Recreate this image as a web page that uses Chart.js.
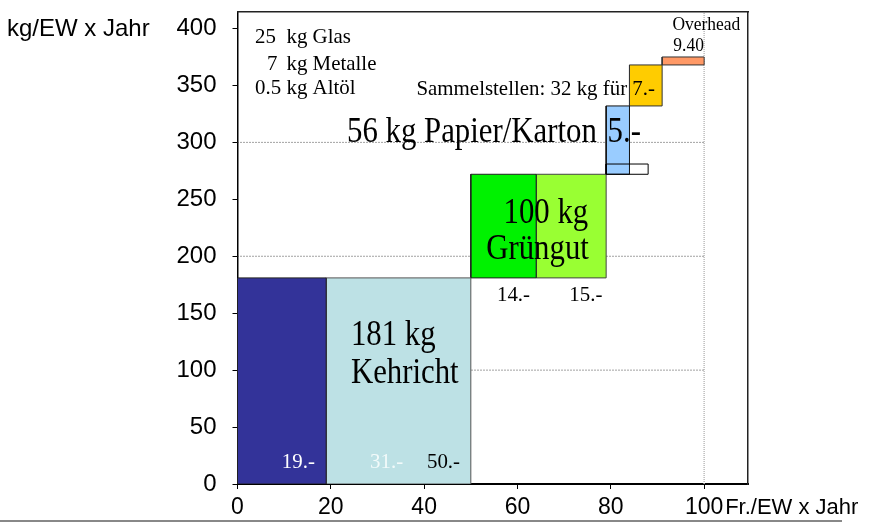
<!DOCTYPE html>
<html>
<head>
<meta charset="utf-8">
<script src="https://cdn.jsdelivr.net/npm/chart.js@4.4.0/dist/chart.umd.min.js"></script>
<style>
html, body { margin: 0; padding: 0; background: #fff; }
#wrap { width: 876px; height: 523px; position: relative; }
</style>
</head>
<body>
<div id="wrap"><canvas id="chartCanvas"></canvas></div>
<script>
// Kosten (Fr./EW x Jahr) von-bis und Menge (kg/EW x Jahr) von-bis je Block
const blocks   = ['Kehricht 19.-', 'Kehricht 31.-', 'Grüngut 14.-', 'Grüngut 15.-', 'Grüngut Rest', 'Papier/Karton 5.-', 'Sammelstellen 7.-', 'Overhead 9.40'];
const costFrom = [0, 19, 50, 64, 79, 79, 84, 91];
const costTo   = [19, 50, 64, 79, 88, 84, 91, 100];
const kgFrom   = [0, 0, 181, 181, 272, 272, 332, 368];
const kgTo     = [181, 181, 272, 272, 281, 332, 368, 375];
const gridKg   = [100, 200, 300];
const xTicks   = [0, 20, 40, 60, 80, 100];
const yTicks   = [0, 50, 100, 150, 200, 250, 300, 350, 400];

const fills   = ['#333399', '#bde1e5', '#00f200', '#99ff33', 'rgba(0,0,0,0)', '#99ccff', '#ffcc00', '#ff9966'];
const borders = ['#222', '#555', '#222', '#444', '#000', '#111', '#333', '#333'];

const datasets = [];

blocks.forEach((name, i) => {
    datasets.push({
        label: name,
        data: [
            {x: costFrom[i], y: kgFrom[i]},
            {x: costTo[i], y: kgFrom[i]},
            {x: costTo[i], y: kgTo[i]},
            {x: costFrom[i], y: kgTo[i]},
            {x: costFrom[i], y: kgFrom[i]}
        ],
        showLine: true,
        fill: 'shape',
        backgroundColor: fills[i],
        borderColor: borders[i],
        borderWidth: 1,
        pointRadius: 0,
        tension: 0,
        order: i == 4 ? 1 : 5
    });
});

// punktierte Hilfslinien
gridKg.forEach(v => {
    datasets.push({
        label: 'grid ' + v,
        data: [{x: 0, y: v}, {x: 100, y: v}],
        showLine: true,
        borderColor: '#444',
        borderWidth: 1,
        borderDash: [1, 2],
        pointRadius: 0,
        order: 10
    });
});
datasets.push({
    label: 'grid 100 Fr.',
    data: [{x: 100, y: 0}, {x: 100, y: 414.5}],
    showLine: true,
    borderColor: '#bbb',
    borderWidth: 1.5,
    borderDash: [1, 1],
    pointRadius: 0,
    order: 10
});

// Beschriftungen (x in Fr., y in kg)
const notes = [
    {t: '25', x: 3.75, y: 387, f: 'm'},
    {t: 'kg Glas', x: 10.5, y: 387, f: 'm'},
    {t: '7', x: 6.3, y: 364, f: 'm'},
    {t: 'kg Metalle', x: 10.5, y: 364, f: 'm'},
    {t: '0.5', x: 3.75, y: 342.5, f: 'm'},
    {t: 'kg Altöl', x: 10.5, y: 342.5, f: 'm'},
    {t: 'Sammelstellen: 32 kg für', x: 83.5, y: 342, f: 'm', a: 'right'},
    {t: '7.-', x: 84.6, y: 342, f: 'm'},
    {t: '56 kg Papier/Karton', x: 77, y: 300.5, f: 'l', a: 'right'},
    {t: '5.-', x: 79.3, y: 300.5, f: 'l'},
    {t: '100 kg', x: 57, y: 229.5, f: 'l'},
    {t: 'Grüngut', x: 53.3, y: 197.5, f: 'l'},
    {t: '14.-', x: 55.6, y: 161, f: 'm'},
    {t: '15.-', x: 71.1, y: 161, f: 'm'},
    {t: '181 kg', x: 24.3, y: 122, f: 'l'},
    {t: 'Kehricht', x: 24.3, y: 89, f: 'l'},
    {t: '19.-', x: 9.5, y: 14, f: 'm', c: '#fff'},
    {t: '31.-', x: 28.4, y: 14, f: 'm', c: '#f2fafa'},
    {t: '50.-', x: 40.6, y: 14, f: 'm'},
    {t: 'Overhead', x: 93.2, y: 399, f: 's'},
    {t: '9.40', x: 93.4, y: 380, f: 's'}
];
const noteFonts = {
    s: {size: 18, sx: 0.97},
    m: {size: 22, sx: 0.95},
    l: {size: 35, sx: 0.88}
};

const textPlugin = {
    id: 'texts',
    afterDatasetsDraw(chart) {
        const ctx = chart.ctx;
        const xs = chart.scales.x, ys = chart.scales.y;
        notes.forEach(n => {
            const fnt = noteFonts[n.f];
            ctx.save();
            ctx.translate(xs.getPixelForValue(n.x), ys.getPixelForValue(n.y));
            ctx.scale(fnt.sx, 1);
            ctx.font = fnt.size + 'px "Liberation Serif", "Times New Roman", serif';
            ctx.fillStyle = n.c || '#000';
            ctx.textAlign = n.a || 'left';
            ctx.textBaseline = 'alphabetic';
            ctx.fillText(n.t, 0, 0);
            ctx.restore();
        });

        // Achsentitel
        ctx.save();
        ctx.fillStyle = '#000';
        ctx.textBaseline = 'middle';
        ctx.textAlign = 'left';
        ctx.font = '24px "Liberation Sans", Arial, sans-serif';
        ctx.fillText('kg/EW x Jahr', 7, ys.getPixelForValue(400) + 1);
        ctx.font = '22px "Liberation Sans", Arial, sans-serif';
        ctx.fillText('Fr./EW x Jahr', xs.getPixelForValue(100) + 21, 508);
        ctx.restore();
    },
    afterDraw(chart) {
        const ctx = chart.ctx;
        ctx.save();
        ctx.strokeStyle = '#888';
        ctx.lineWidth = 2;
        ctx.beginPath();
        ctx.moveTo(0, 521);
        ctx.lineTo(842, 521);
        ctx.stroke();
        ctx.restore();
    }
};

Chart.defaults.font.family = '"Liberation Sans", Arial, sans-serif';
Chart.defaults.color = '#000';

function noPad(s) {
    s.paddingTop = 0; s.paddingBottom = 0; s.paddingLeft = 0; s.paddingRight = 0;
}

new Chart(document.getElementById('chartCanvas'), {
    type: 'scatter',
    data: {datasets: datasets},
    options: {
        responsive: true,
        maintainAspectRatio: false,
        animation: false,
        layout: {padding: {top: 12, right: 128, left: 0, bottom: 0}},
        plugins: {legend: {display: false}, tooltip: {enabled: false}},
        scales: {
            x: {
                type: 'linear', min: 0, max: 109.4,
                afterBuildTicks: s => { s.ticks = xTicks.map(v => ({value: v})); },
                afterFit: s => { s.height = 39; noPad(s); },
                ticks: {font: {size: 23}, padding: 5, color: '#000', maxRotation: 0},
                grid: {drawOnChartArea: false, tickLength: 5, color: '#000'},
                border: {color: '#000', width: 2}
            },
            y: {
                type: 'linear', min: 0, max: 414.5,
                afterBuildTicks: s => { s.ticks = yTicks.map(v => ({value: v})); },
                afterFit: s => { s.width = 237.5; noPad(s); },
                ticks: {font: {size: 24}, padding: 16, color: '#000'},
                grid: {drawOnChartArea: false, tickLength: 5, color: '#000'},
                border: {color: '#000', width: 1.5}
            },
            x2: {
                type: 'linear', position: 'top', min: 0, max: 1,
                afterFit: s => { s.height = 0; noPad(s); },
                ticks: {display: false},
                grid: {display: false},
                border: {display: true, color: '#222', width: 1.5}
            },
            y2: {
                type: 'linear', position: 'right', min: 0, max: 1,
                afterFit: s => { s.width = 0; noPad(s); },
                ticks: {display: false},
                grid: {display: false},
                border: {display: true, color: '#222', width: 1.5}
            }
        }
    },
    plugins: [textPlugin]
});
</script>
</body>
</html>
